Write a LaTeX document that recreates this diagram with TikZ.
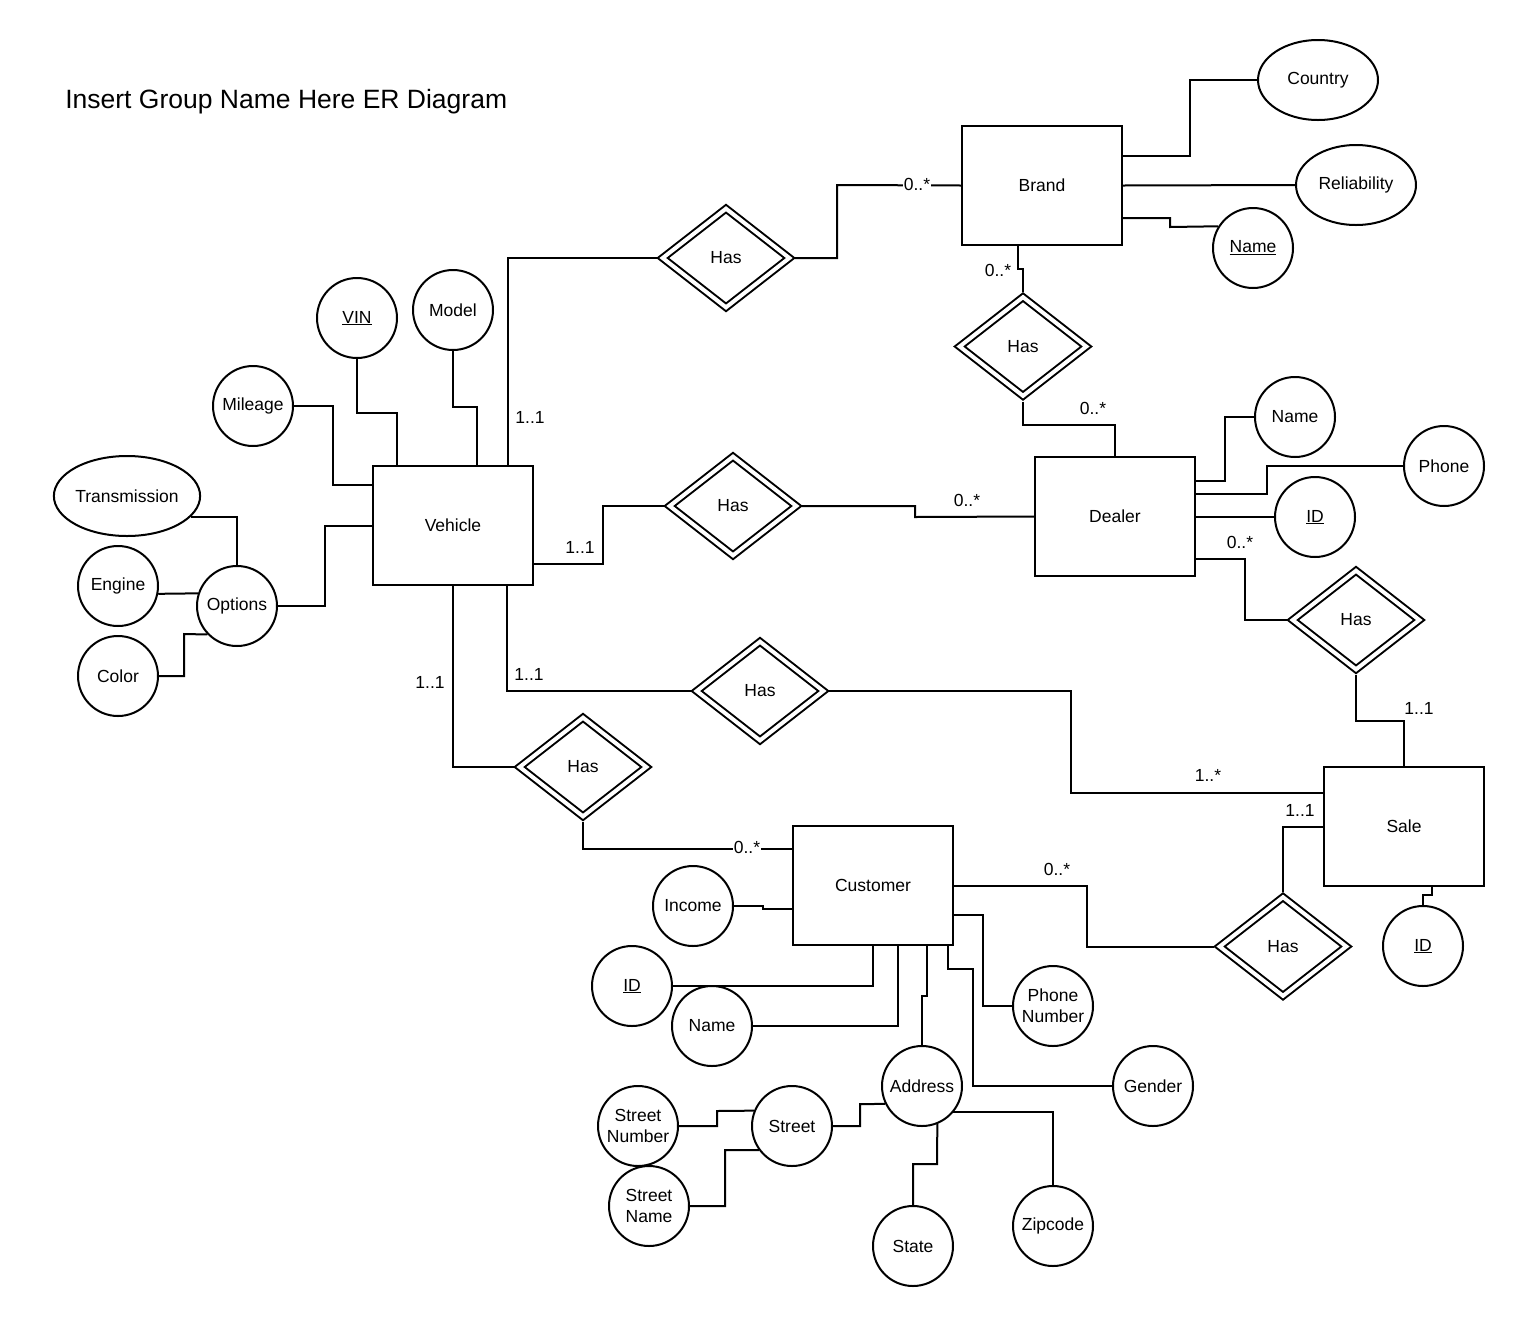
\documentclass[tikz,border=0pt]{standalone}
\usepackage{fontspec}
\setmainfont{Liberation Sans}
\usetikzlibrary{shapes.geometric}
\begin{document}
\begin{tikzpicture}[x=1pt,y=-1pt, line width=2pt,
  every node/.style={font=\fontsize{17.5}{21}\selectfont},
  entity/.style={draw, rectangle, minimum width=160pt, minimum height=119pt, inner sep=0pt},
  attr/.style={draw, circle, minimum size=80pt, inner sep=0pt, align=center},
  oval/.style={draw, ellipse, minimum width=120pt, minimum height=80pt, inner sep=0pt},
  rel/.style={draw, diamond, double, double distance=4pt, minimum width=130pt, minimum height=102pt, inner sep=0pt, outer sep=4pt},
  card/.style={inner sep=1pt},
  oncard/.style={inner sep=1pt, fill=white}]
\path[fill=white, use as bounding box] (0,0) rectangle (1524,1326);

\node[anchor=west, font=\fontsize{26.5}{30}\selectfont] (title) at (61,102) {Insert Group Name Here ER Diagram};

% entities
\node[entity] (brand) at (1042,185.5) {Brand};
\node[entity] (vehicle) at (453,525.5) {Vehicle};
\node[entity] (dealer) at (1115,516.5) {Dealer};
\node[entity] (sale) at (1404,826.5) {Sale};
\node[entity] (customer) at (873,885.5) {Customer};

% relationships
\node[rel] (has1) at (726,258) {Has};
\node[rel] (has2) at (1023,346.5) {Has};
\node[rel] (has3) at (733,506) {Has};
\node[rel] (has4) at (1356,620) {Has};
\node[rel] (has5) at (760,691) {Has};
\node[rel] (has6) at (583,767) {Has};
\node[rel] (has7) at (1283,946.5) {Has};

% attributes
\node[oval] (country) at (1318,80) {Country};
\node[oval] (reliab) at (1356,185) {Reliability};
\node[attr] (bname) at (1253,248) {\underline{Name}};
\node[attr] (vin) at (357,318) {\underline{VIN}};
\node[attr] (model) at (453,310) {Model};
\node[attr] (mileage) at (253,406) {Mileage};
\node[oval, minimum width=140pt] (trans) at (127,496) {Transmission};
\node[attr] (engine) at (118,586) {Engine};
\node[attr] (options) at (237,606) {Options};
\node[attr] (color) at (118,676) {Color};
\node[attr] (dname) at (1295,417) {Name};
\node[attr] (phone) at (1444,466) {Phone};
\node[attr] (did) at (1315,517) {\underline{ID}};
\node[attr] (sid) at (1423,946) {\underline{ID}};
\node[attr] (income) at (693,906) {Income};
\node[attr] (cid) at (632,986) {\underline{ID}};
\node[attr] (cname) at (712,1026) {Name};
\node[attr] (cphone) at (1053,1006) {Phone\\Number};
\node[attr] (address) at (922,1086) {Address};
\node[attr] (gender) at (1153,1086) {Gender};
\node[attr] (stnum) at (638,1126) {Street\\Number};
\node[attr] (street) at (792,1126) {Street};
\node[attr] (stname) at (649,1206) {Street\\Name};
\node[attr] (state) at (913,1246) {State};
\node[attr] (zip) at (1053,1226) {Zipcode};

% brand attributes
\draw (brand.east |- 0,156) -| (1190,80) -- (country.west);
\draw (brand.east) -- (reliab.west);
\draw (brand.east |- 0,218) -| (1170,227) -- (bname.148);

% relationships connectors
\draw (has1.east) -| (837,185) -- (brand.west);
\node[oncard] (c1) at (917,184) {0..*};
\draw (vehicle.north -| 508,0) |- (has1.west);
\node[card] (c2) at (530,417) {1..1};

\draw (brand.south -| 1018,0) -- (1018,269) -| (has2.north);
\node[card] (c3) at (998,270) {0..*};
\draw (has2.south) -- (has2.south |- 0,425) -| (dealer.north);
\node[card] (c4) at (1093,408) {0..*};

\draw (vehicle.east |- 0,564) -| (603,506) -- (has3.west);
\node[card] (c5) at (580,547) {1..1};
\draw (has3.east) -| (915,517) -- (dealer.west);
\node[card] (c6) at (967,500) {0..*};

% dealer attributes
\draw (dealer.east |- 0,481) -| (1225,417) -- (dname.west);
\draw (dealer.east |- 0,494) -| (1267,466) -- (phone.west);
\draw (dealer.east |- 0,517) -- (did.west);

\draw (dealer.east |- 0,559) -| (1245,620) -- (has4.west);
\node[card] (c7) at (1240,542) {0..*};
\draw (has4.south) -- (has4.south |- 0,721) -| (sale.north);
\node[card] (c8) at (1419,708) {1..1};

\draw (vehicle.south -| 507,0) |- (has5.west);
\node[card] (c9) at (529,674) {1..1};
\draw (has5.east) -| (1071,793) -- (sale.west |- 0,793);
\node[card] (c10) at (1208,775) {1..*};

\draw (vehicle.south) |- (has6.west);
\node[card] (c11) at (430,682) {1..1};
\draw (has6.south) |- (customer.west |- 0,849);
\node[oncard] (c12) at (747,847) {0..*};

\draw (customer.east) -| (1087,946.5) -- (has7.west);
\node[card] (c13) at (1057,869) {0..*};
\draw (has7.north) |- (sale.west |- 0,827);
\node[card] (c14) at (1300,810) {1..1};

\draw (sale.south -| 1432,0) -- (1432,895) -| (sid.north);

% vehicle attributes
\draw (options.east) -| (325,526) -- (vehicle.west |- 0,526);
\draw (mileage.east) -| (333,485) -- (vehicle.west |- 0,485);
\draw (vin.south) |- (397,413) -- (vehicle.north -| 397,0);
\draw (model.south) |- (477,407) -- (vehicle.north -| 477,0);
\draw (trans.-18.3) -| (options.north);
\draw (engine.-11.5) -- (options.162.6);
\draw (color.east) -| (184,634) -- (options.224.4);

% customer attributes
\draw (income.east) -| (763,909) -- (customer.west |- 0,909);
\draw (cid.east) -| (customer.south);
\draw (cname.east) -| (customer.south -| 898,0);
\draw (address.north) -- (922,996) -| (customer.south -| 927,0);
\draw (customer.south -| 948,0) |- (973,969) |- (gender.west);
\draw (customer.east |- 0,915) -| (983,1006) -- (cphone.west);

% address parts
\draw (street.east) -| (860,1104) -- (address.206.8);
\draw (stnum.east) -| (717,1111) -- (street.158);
\draw (stname.east) -| (725,1150) -- (street.216.9);
\draw (address.-68) -- (937,1164) -| (state.north);
\draw (address.-40.5) -| (zip.north);
\end{tikzpicture}
\end{document}
